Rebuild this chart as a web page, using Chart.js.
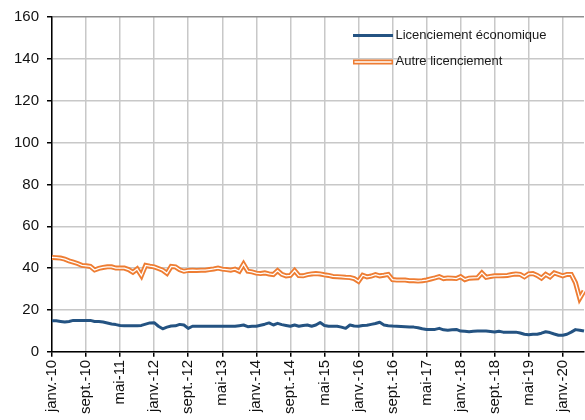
<!DOCTYPE html>
<html>
<head>
<meta charset="utf-8">
<script src="https://cdn.jsdelivr.net/npm/chart.js@4.4.1/dist/chart.umd.min.js"></script>
<style>
  html, body { margin: 0; padding: 0; background: #fff; overflow: hidden; }
  #wrap { position: relative; width: 585px; height: 420px; }
</style>
</head>
<body>
<div id="wrap"><canvas id="c" width="585" height="420"></canvas></div>
<script>
// ---- Data ----
const monthNames = ['janv.', 'févr.', 'mars', 'avr.', 'mai', 'juin', 'juil.', 'août', 'sept.', 'oct.', 'nov.', 'déc.'];
const firstYear = 2010;
const monthCount = 126; // janv. 2010 -> juin 2020

const tickLabels = ['janv.-10', 'sept.-10', 'mai-11', 'janv.-12', 'sept.-12', 'mai-13', 'janv.-14', 'sept.-14',
  'mai-15', 'janv.-16', 'sept.-16', 'mai-17', 'janv.-18', 'sept.-18', 'mai-19', 'janv.-20'];

const licenciementEconomique = [
  14.8, 14.8, 14.5, 14.2, 14.5, 15.0, 15.0, 15.0, 15.0, 15.0,
  14.5, 14.5, 14.2, 13.8, 13.3, 13.0, 12.6, 12.4, 12.4, 12.4,
  12.4, 12.6, 13.2, 13.8, 13.9, 12.2, 11.0, 11.8, 12.3, 12.4,
  13.1, 12.8, 11.2, 12.2, 12.2, 12.2, 12.2, 12.2, 12.2, 12.2,
  12.2, 12.2, 12.2, 12.2, 12.5, 12.8, 12.0, 12.2, 12.2, 12.7,
  13.2, 13.8, 12.8, 13.6, 13.0, 12.6, 12.2, 12.8, 12.2, 12.6,
  12.8, 12.2, 12.8, 14.0, 12.6, 12.2, 12.2, 12.2, 11.8, 11.2,
  12.8, 12.3, 12.2, 12.6, 12.7, 13.1, 13.5, 14.1, 12.8, 12.5,
  12.3, 12.2, 12.1, 12.0, 11.9, 11.8, 11.5, 11.0, 10.7, 10.7,
  10.7, 11.2, 10.5, 10.3, 10.5, 10.7, 9.9, 9.8, 9.6, 9.8,
  9.9, 9.9, 9.9, 9.7, 9.5, 9.8, 9.4, 9.4, 9.4, 9.4,
  9.0, 8.4, 8.1, 8.4, 8.4, 8.9, 9.6, 9.2, 8.5, 7.9,
  7.9, 8.4, 9.4, 10.6, 10.3, 9.9
];

const autreLicenciement = [
  45.1, 45.0, 44.8, 44.3, 43.5, 42.9, 42.2, 41.3, 41.1, 40.8,
  39.1, 39.9, 40.3, 40.6, 40.6, 40.0, 40.0, 40.0, 39.3, 38.0,
  39.6, 36.4, 41.3, 40.9, 40.6, 39.8, 39.0, 37.5, 40.8, 40.6,
  39.2, 38.5, 38.9, 39.0, 38.9, 39.0, 39.0, 39.3, 39.6, 40.0,
  39.5, 39.3, 39.0, 39.5, 38.5, 41.9, 38.5, 38.2, 37.6, 37.4,
  37.7, 37.2, 36.9, 38.8, 37.0, 36.3, 36.5, 38.8, 36.4, 36.3,
  36.9, 37.2, 37.4, 37.2, 36.8, 36.5, 36.0, 35.9, 35.8, 35.6,
  35.5, 35.0, 33.7, 36.6, 35.8, 36.2, 36.9, 36.3, 36.6, 37.0,
  34.5, 34.3, 34.3, 34.3, 34.0, 34.0, 33.8, 34.0, 34.3, 34.8,
  35.3, 35.9, 35.0, 35.3, 35.2, 35.0, 35.9, 34.5, 35.2, 35.3,
  35.4, 37.7, 35.6, 36.0, 36.3, 36.3, 36.4, 36.5, 36.9, 37.2,
  37.0, 35.8, 37.2, 37.4, 36.5, 35.2, 37.0, 35.8, 37.7, 37.0,
  36.3, 37.0, 37.0, 33.0, 25.5, 29.0
];

const seriesNames = ['Licenciement économique', 'Autre licenciement'];
const yTicks = [0, 20, 40, 60, 80, 100, 120, 140, 160];

// ---- Build categories ----
const categories = [];
for (let i = 0; i < monthCount; i++) {
  const m = i % 12;
  const y = firstYear + Math.floor(i / 12);
  categories.push(monthNames[m] + '-' + String(y).slice(2));
}

const BLUE = '#245382';
const ORANGE = '#EE7D33';

const legendPlugin = {
  id: 'customLegend',
  afterDraw(chart) {
    const ctx = chart.ctx;
    ctx.save();
    ctx.lineCap = 'butt';
    ctx.strokeStyle = BLUE;
    ctx.lineWidth = 3;
    ctx.beginPath(); ctx.moveTo(353, 35.5); ctx.lineTo(393, 35.5); ctx.stroke();
    ctx.strokeStyle = ORANGE;
    ctx.lineWidth = 5;
    ctx.beginPath(); ctx.moveTo(353, 62); ctx.lineTo(393, 62); ctx.stroke();
    ctx.strokeStyle = '#ffffff';
    ctx.lineWidth = 1.3;
    ctx.beginPath(); ctx.moveTo(354.5, 62); ctx.lineTo(391.5, 62); ctx.stroke();
    ctx.fillStyle = '#1a1a1a';
    ctx.font = '13px "Liberation Sans", Arial, sans-serif';
    ctx.textBaseline = 'middle';
    ctx.textAlign = 'left';
    ctx.fillText(seriesNames[0], 395.5, 35.5);
    ctx.fillText(seriesNames[1], 395.5, 61);
    ctx.restore();
  }
};

new Chart(document.getElementById('c'), {
  type: 'line',
  data: {
    labels: categories,
    datasets: [
      {
        label: seriesNames[0],
        data: licenciementEconomique,
        borderColor: BLUE,
        borderWidth: 3,
        pointRadius: 0,
        tension: 0,
        order: 0,
        borderJoinStyle: 'round'
      },
      {
        label: seriesNames[1],
        data: autreLicenciement,
        borderColor: ORANGE,
        borderWidth: 5,
        pointRadius: 0,
        tension: 0,
        order: 2,
        borderJoinStyle: 'miter'
      },
      {
        label: seriesNames[1] + ' (inner)',
        data: autreLicenciement,
        borderColor: '#ffffff',
        borderWidth: 1.3,
        pointRadius: 0,
        tension: 0,
        order: 1,
        borderJoinStyle: 'miter'
      }
    ]
  },
  options: {
    responsive: false,
    animation: false,
    events: [],
    layout: { padding: { left: 6, right: 1, top: -2, bottom: 3 } },
    plugins: {
      legend: { display: false },
      tooltip: { enabled: false }
    },
    scales: {
      x: {
        type: 'category',
        offset: false,
        grid: {
          color: '#c8c8c8',
          lineWidth: 1.5,
          tickColor: '#000',
          tickLength: 5,
          drawTicks: true
        },
        border: { color: '#000', width: 1.5 },
        ticks: {
          autoSkip: false,
          maxRotation: 90,
          minRotation: 90,
          padding: 3,
          color: '#111',
          font: { family: '"Liberation Sans", Arial, sans-serif', size: 15 },
          callback: function (value, index) {
            const lbl = categories[index];
            return tickLabels.includes(lbl) ? lbl : null;
          }
        }
      },
      y: {
        min: 0,
        max: 160,
        afterBuildTicks: (axis) => { axis.ticks = yTicks.map(v => ({ value: v })); },
        grid: {
          color: (c) => (c.tick && c.tick.value === 160 ? '#8f8f8f' : '#c8c8c8'),
          lineWidth: 1.5,
          tickColor: '#000',
          tickLength: 5
        },
        border: { color: '#000', width: 1.5 },
        ticks: {
          padding: 8,
          color: '#111',
          font: { family: '"Liberation Sans", Arial, sans-serif', size: 15 }
        }
      }
    }
  },
  plugins: [legendPlugin]
});
</script>
</body>
</html>
